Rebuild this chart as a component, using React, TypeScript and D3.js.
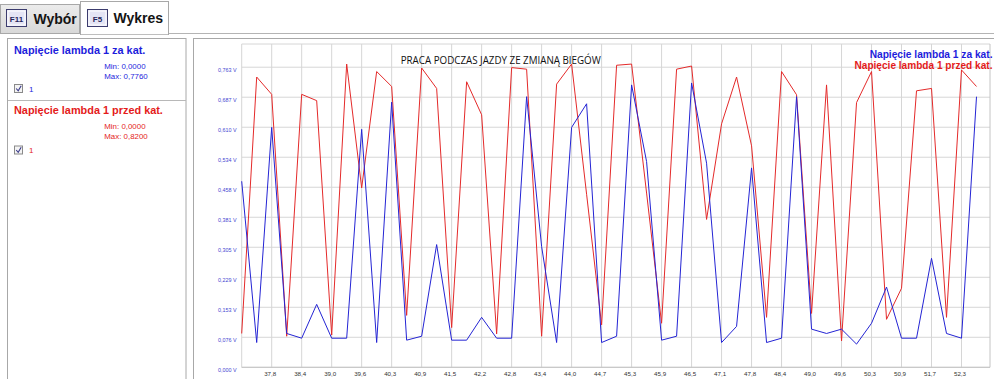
import React from "react";
import * as d3 from "d3";

// ---- data ----
const seriesNames = ["Napięcie lambda 1 za kat.", "Napięcie lambda 1 przed kat."];
const chartTitle = "PRACA PODCZAS JAZDY ZE ZMIANĄ BIEGÓW";

// sample values (V), one sample every half x-grid step
const blueValues = [
  0.473, 0.063, 0.61, 0.086, 0.074, 0.16, 0.074, 0.074, 0.605, 0.063,
  0.674, 0.069, 0.079, 0.312, 0.069, 0.069, 0.127, 0.074, 0.074, 0.688,
  0.307, 0.063, 0.61, 0.67, 0.063, 0.079, 0.718, 0.523, 0.069, 0.079,
  0.723, 0.519, 0.063, 0.104, 0.507, 0.063, 0.074, 0.688, 0.097, 0.086,
  0.097, 0.059, 0.112, 0.204, 0.074, 0.074, 0.277, 0.086, 0.074, 0.688,
];
const redValues = [
  0.086, 0.738, 0.694, 0.079, 0.694, 0.678, 0.082, 0.771, 0.456, 0.752,
  0.714, 0.132, 0.761, 0.709, 0.101, 0.726, 0.642, 0.085, 0.762, 0.758,
  0.079, 0.72, 0.771, 0.44, 0.108, 0.768, 0.771, 0.443, 0.112, 0.758,
  0.766, 0.376, 0.619, 0.738, 0.563, 0.127, 0.752, 0.693, 0.137, 0.718,
  0.067, 0.673, 0.752, 0.122, 0.201, 0.703, 0.709, 0.127, 0.756, 0.714,
];
const xTickLabels = [
  "37,8", "38,4", "39,0", "39,6", "40,3", "40,9", "41,5", "42,2", "42,8", "43,4", "44,0", "44,7",
  "45,3", "45,9", "46,5", "47,1", "47,8", "48,4", "49,0", "49,6", "50,3", "50,9", "51,7", "52,3",
];
const yTickValues = [0, 0.0763, 0.1526, 0.2289, 0.3052, 0.3815, 0.4578, 0.5341, 0.6104, 0.6867, 0.763];
const yTickLabels = [
  "0,000 V", "0,076 V", "0,153 V", "0,229 V", "0,305 V", "0,381 V",
  "0,458 V", "0,534 V", "0,610 V", "0,687 V", "0,763 V",
];
const seriesMin = ["Min: 0,0000", "Min: 0,0000"];
const seriesMax = ["Max: 0,7760", "Max: 0,8200"];

// ---- styles ----
const BLUE = "#2424d4";
const RED = "#e42a2a";
const BLUE_TXT = "#1d1ddc";
const RED_TXT = "#e41b1b";
const GRID = "#d6d6d6";
const SANS = "'Liberation Sans', Arial, sans-serif";

const PL = 241.7, PR = 990, PT = 44, PB = 367.3;

export default function App() {
  const x = d3.scaleLinear().domain([0, 49.9]).range([PL, PR]);
  const y = d3.scaleLinear().domain([0, 0.822]).range([PB, PT]);
  const line = d3.line<number>().x((_, i) => x(i)).y((d) => y(d));
  const gridIdx = d3.range(0, xTickLabels.length + 1).map((k) => k * 2);

  const icon = (ix: number, label: string) => (
    <g>
      <rect x={ix} y={9.5} width={20} height={17} fill="#e4e4f4" stroke="#3c3c6e" strokeWidth={1} />
      <rect x={ix + 1.5} y={11} width={17} height={14} fill="none" stroke="#ffffff" strokeWidth={1} />
      <text x={ix + 10} y={21.5} textAnchor="middle" fontFamily={SANS} fontWeight="bold" fontSize={8} fill="#26265a">{label}</text>
    </g>
  );

  return (
    <svg width={994} height={379} style={{ position: "absolute", left: 0, top: 0, background: "#fff" }}>
      <defs>
        <linearGradient id="tabg" x1="0" y1="0" x2="0" y2="1">
          <stop offset="0" stopColor="#ececec" />
          <stop offset="1" stopColor="#d8d8d8" />
        </linearGradient>
      </defs>
      {/* tab bar */}
      <line x1={0} x2={994} y1={33.5} y2={33.5} stroke="#b4b4b4" />
      <rect x={0.5} y={4.5} width={79} height={29} fill="url(#tabg)" stroke="#a8a8a8" />
      <rect x={80.5} y={1.5} width={88} height={33} fill="#ffffff" stroke="#a8a8a8" />
      <line x1={81} x2={168} y1={33.5} y2={33.5} stroke="#ffffff" strokeWidth={1.5} />
      {icon(6.5, "F11")}
      <text x={33.5} y={24} fontFamily={SANS} fontWeight="bold" fontSize={14} fill="#141414">Wybór</text>
      {icon(87.5, "F5")}
      <text x={113.5} y={23} fontFamily={SANS} fontWeight="bold" fontSize={14} fill="#141414">Wykres</text>

      {/* left panel */}
      <rect x={7.5} y={38.5} width={178.5} height={360} fill="#fff" stroke="#a8a8a8" />
      <line x1={8} x2={186} y1={100.5} y2={100.5} stroke="#b8b8b8" />
      {[0, 1].map((s) => {
        const oy = s === 0 ? 0 : 60;
        const col = s === 0 ? BLUE_TXT : RED_TXT;
        return (
          <g key={s}>
            <text x={14} y={54 + oy} fontFamily={SANS} fontWeight="bold" fontSize={10.9} fill={col}>{seriesNames[s]}</text>
            <text x={104.3} y={68.5 + oy} fontFamily={SANS} fontSize={7.9} fill={col}>{seriesMin[s]}</text>
            <text x={104.3} y={79 + oy + (s === 1 ? -0.5 : 0)} fontFamily={SANS} fontSize={7.9} fill={col}>{seriesMax[s]}</text>
            <rect x={14.5} y={84.5 + oy + (s === 1 ? 1.5 : 0)} width={8} height={8} fill="#f4f4f4" stroke="#8a8a8a" />
            <path d={`M16.2,${88.5 + oy + (s === 1 ? 1.5 : 0)} l2,2.3 l3,-5`} fill="none" stroke="#3a3a8a" strokeWidth={1.1} />
            <text x={29} y={91.5 + oy + (s === 1 ? 1.5 : 0)} fontFamily={SANS} fontSize={8} fill={col}>1</text>
          </g>
        );
      })}

      {/* chart panel */}
      <rect x={193.5} y={38.5} width={810} height={360} fill="#fff" stroke="#a8a8a8" />

      {/* grid */}
      {yTickValues.map((v, i) => (
        <line key={"hy" + i} x1={PL} x2={PR} y1={y(v)} y2={y(v)} stroke={GRID} strokeWidth={1} />
      ))}
      <line x1={PL} x2={PR} y1={PT} y2={PT} stroke={GRID} />
      {gridIdx.map((gi) => (
        <line key={"vx" + gi} x1={x(gi)} x2={x(gi)} y1={PT} y2={PB} stroke={GRID} strokeWidth={1} />
      ))}
      <line x1={PR} x2={PR} y1={PT} y2={PB} stroke="#c4c4c4" />
      <line x1={PL} x2={PR} y1={PB} y2={PB} stroke="#c4c4c4" />

      {/* y labels */}
      {yTickValues.map((v, i) => (
        <text key={"yl" + i} x={236.5} y={y(v) + 4.5} textAnchor="end" fontFamily={SANS} fontSize={5.4} fill="#4646d2">{yTickLabels[i]}</text>
      ))}
      {/* x labels */}
      {xTickLabels.map((l, k) => (
        <text key={"xl" + k} x={x((k + 1) * 2) - 1.5} y={375.5} textAnchor="middle" fontFamily={SANS} fontSize={6.2} fill="#333">{l}</text>
      ))}

      {/* title */}
      <text x={400.7} y={63.5} fontFamily="'Open Sans', sans-serif" fontSize={10.6} fill="#111" textLength={200} lengthAdjust="spacingAndGlyphs">{chartTitle}</text>

      {/* series */}
      <path d={line(redValues) || ""} fill="none" stroke={RED} strokeWidth={1} />
      <path d={line(blueValues) || ""} fill="none" stroke={BLUE} strokeWidth={1} />

      {/* legend */}
      <text x={992.5} y={57.5} textAnchor="end" fontFamily={SANS} fontWeight="bold" fontSize={10.2} fill={BLUE_TXT}>{seriesNames[0]}</text>
      <text x={992.5} y={68.5} textAnchor="end" fontFamily={SANS} fontWeight="bold" fontSize={10.1} fill={RED_TXT}>{seriesNames[1]}</text>
    </svg>
  );
}
